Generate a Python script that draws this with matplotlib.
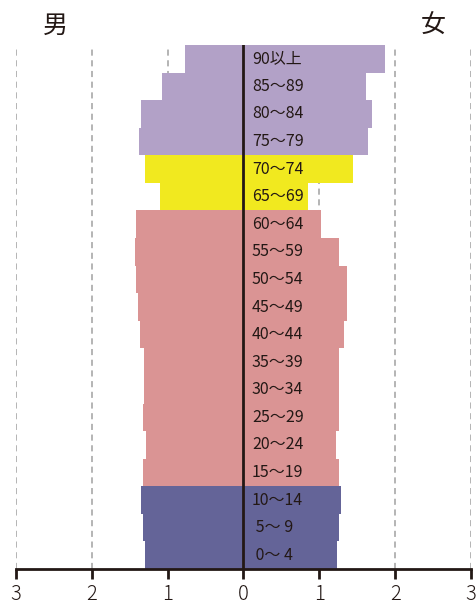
import matplotlib
matplotlib.use('Agg')
import matplotlib.pyplot as plt
import numpy as np

plt.rcParams['font.family'] = ['Noto Sans CJK JP', 'DejaVu Sans']

# age groups, bottom to top
ages = [' 0～ 4', ' 5～ 9', '10～14', '15～19', '20～24', '25～29', '30～34',
        '35～39', '40～44', '45～49', '50～54', '55～59', '60～64', '65～69',
        '70～74', '75～79', '80～84', '85～89', '90以上']
male = [1.30, 1.33, 1.35, 1.33, 1.29, 1.33, 1.31, 1.31, 1.37, 1.39, 1.42,
        1.43, 1.42, 1.10, 1.30, 1.38, 1.35, 1.08, 0.77]
female = [1.23, 1.26, 1.28, 1.26, 1.22, 1.26, 1.26, 1.26, 1.32, 1.36, 1.36,
          1.26, 1.02, 0.85, 1.44, 1.64, 1.70, 1.61, 1.86]
groups = ['young'] * 3 + ['work'] * 10 + ['old'] * 2 + ['oldest'] * 4
group_colors = {'young': '#646498', 'work': '#DA9494',
                'old': '#F1E91F', 'oldest': '#B2A1C7'}
xticks = [-3, -2, -1, 0, 1, 2, 3]
xticklabels = ['3', '2', '1', '0', '1', '2', '3']

dark = '#231815'

fig = plt.figure(figsize=(4.77, 6.08), dpi=100)
ax = fig.add_axes([16 / 477, 39 / 608, 455 / 477, 524 / 608])

y = np.arange(len(ages))
colors = [group_colors[g] for g in groups]

for gx in [-3, -2, -1, 1, 2, 3]:
    ax.axvline(gx, color='#A0A0A0', lw=1.1, ls=(0, (4, 3)), zorder=0)

ax.barh(y, [-m for m in male], height=1.0, color=colors, zorder=2)
ax.barh(y, female, height=1.0, color=colors, zorder=2)
ax.axvline(0, color=dark, lw=2, zorder=3)

for yi, lab in zip(y, ages):
    ax.text(0.11, yi, lab, ha='left', va='center', fontsize=11.5,
            color=dark, zorder=4)

ax.set_xlim(-3, 3)
ax.set_ylim(-0.5, len(ages) - 0.5)
ax.set_xticks(xticks)
ax.set_xticklabels(xticklabels, fontsize=14.5, fontweight='light', color=dark)
ax.set_yticks([])
for s in ['top', 'left', 'right']:
    ax.spines[s].set_visible(False)
ax.spines['bottom'].set_color(dark)
ax.spines['bottom'].set_linewidth(2)
ax.tick_params(axis='x', direction='out', length=7, width=2, color=dark, pad=4)

fig.text(55 / 477, 1 - 26 / 608, '男', fontsize=18,
         ha='center', va='center', color=dark)
fig.text(433 / 477, 1 - 26 / 608, '女', fontsize=18,
         ha='center', va='center', color=dark)

fig.savefig('out.png', dpi=100)
